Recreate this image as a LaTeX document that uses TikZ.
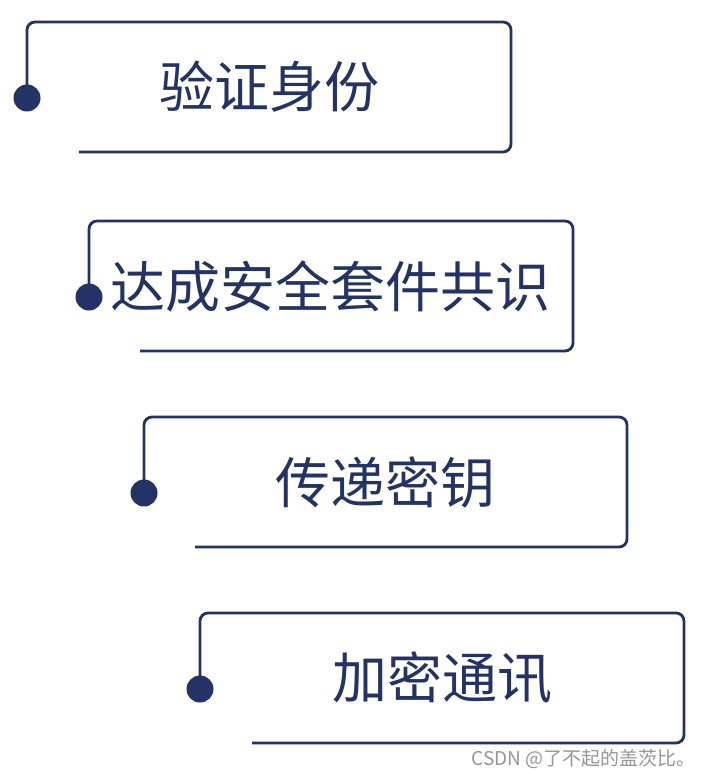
\documentclass[tikz,border=0pt]{standalone}
\usepackage{fontspec}
\newfontfamily\cjk{Noto Sans CJK SC}
\definecolor{navy}{RGB}{35,51,102}
\definecolor{wm}{RGB}{150,150,150}
\tikzset{
  frame/.style={draw=navy, line width=2.8pt, rounded corners=8pt},
  dotmark/.style={circle, fill=navy, inner sep=0pt, minimum size=27pt},
  label/.style={text=navy, font=\cjk\fontsize{55}{55}\selectfont, inner sep=0pt, anchor=center},
}
\begin{document}
\begin{tikzpicture}[x=1pt,y=-1pt]
\useasboundingbox (0,0) rectangle (706,778);
\foreach \i/\lx/\ty/\rx/\by/\bx/\tx/\ttx in {
  1/27/22/511/152/79/269/验证身份,
  2/89/221/573/351/140/330/达成安全套件共识,
  3/144/417/627/547/195/385/传递密钥,
  4/200/613/684/743/252/442/加密通讯}{
  \coordinate (tr\i) at (\rx,\ty);
  \coordinate (bs\i) at (\bx,\by);
  \node[dotmark] (d\i) at (\lx,\ty+76) {};
  \draw[frame] (d\i.center) |- (tr\i) |- (bs\i);
  \node[label] (t\i) at (\tx,\ty+65) {\ttx};
}
\node[text=wm, font=\cjk\fontsize{19}{20}\selectfont, inner sep=0pt, anchor=east] (wmk) at (696,759) {CSDN @了不起的盖茨比。};
\end{tikzpicture}
\end{document}
